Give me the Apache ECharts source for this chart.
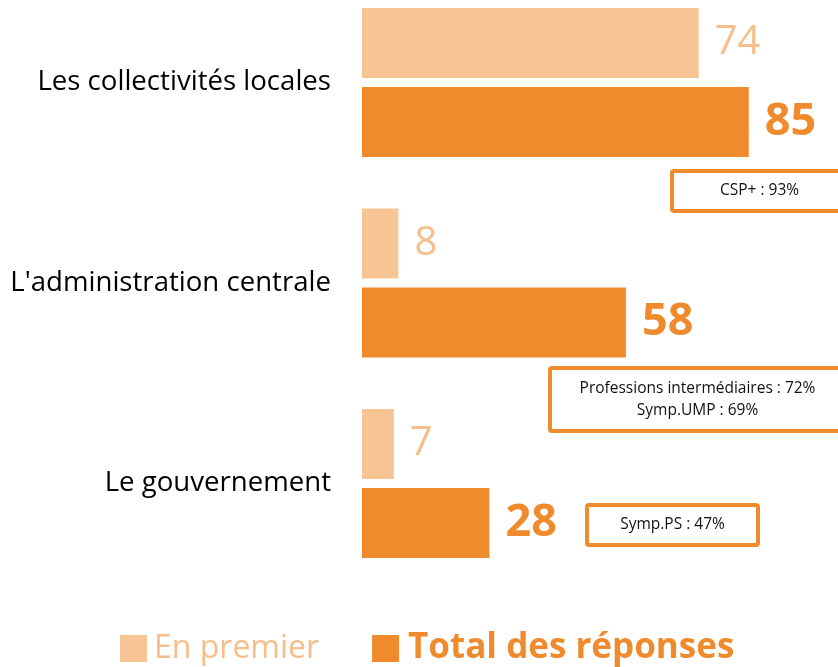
<!DOCTYPE html>
<html>
<head>
<meta charset="utf-8">
<script src="https://cdn.jsdelivr.net/npm/echarts@6/dist/echarts.min.js"></script>
<style>
  html, body { margin: 0; padding: 0; background: #fff; }
  #chart { width: 838px; height: 667px; }
</style>
</head>
<body>
<div id="chart"></div>
<script>
const categories = ['Les collectivités locales', "L'administration centrale", 'Le gouvernement']
const firstValues = [74, 8, 7]
const totalValues = [85, 58, 28]
const seriesNames = ['En premier', 'Total des réponses']
const notes = ['CSP+ : 93%', 'Professions intermédiaires : 72%\nSymp.UMP : 69%', 'Symp.PS : 47%']

const LIGHT = '#F7C594'
const LIGHT_TEXT = '#F5BE8A'
const DARK = '#EF8B2C'
const FONT = '"Open Sans", sans-serif'

const chart = echarts.init(document.getElementById('chart'))

function noteBox(x, y, w, h, text) {
  return {
    type: 'group',
    left: x,
    top: y,
    children: [
      {
        type: 'rect',
        shape: { x: 0, y: 0, width: w, height: h, r: 2 },
        style: { fill: '#fff', stroke: DARK, lineWidth: 4 },
      },
      {
        type: 'text',
        x: w / 2,
        y: h / 2,
        style: {
          text: text,
          fill: '#111',
          font: '15.5px ' + FONT,
          align: 'center',
          verticalAlign: 'middle',
          lineHeight: 22,
        },
      },
    ],
  }
}

chart.setOption({
  animation: false,
  grid: {
    left: 362,
    right: 21,
    top: 82.5,
    height: 401,
  },
  xAxis: {
    type: 'value',
    min: 0,
    max: 100,
    show: false,
  },
  yAxis: {
    type: 'category',
    inverse: true,
    boundaryGap: false,
    data: categories,
    axisLine: { show: false },
    axisTick: { show: false },
    splitLine: { show: false },
    axisLabel: {
      margin: 31,
      fontSize: 27.6,
      color: '#000',
      fontFamily: FONT,
    },
  },
  legend: {
    left: 115,
    top: 626,
    itemWidth: 27,
    itemHeight: 27,
    itemGap: 53,
    icon: 'rect',
    textStyle: { fontSize: 32, fontFamily: FONT },
    data: [
      { name: seriesNames[0], textStyle: { color: LIGHT_TEXT, padding: [0, 0, 0, 2] } },
      { name: seriesNames[1], textStyle: { color: DARK, fontWeight: 'bold', fontSize: 35, padding: [0, 0, 0, 4] } },
    ],
  },
  series: [
    {
      name: seriesNames[0],
      type: 'bar',
      data: firstValues,
      barWidth: 70,
      barGap: '13%',
      clip: false,
      itemStyle: { color: LIGHT },
      label: {
        show: true,
        position: 'right',
        distance: 16,
        fontSize: 40,
        color: LIGHT_TEXT,
        fontFamily: FONT,
      },
    },
    {
      name: seriesNames[1],
      type: 'bar',
      data: totalValues,
      barWidth: 70,
      barGap: '13%',
      clip: false,
      itemStyle: { color: DARK },
      label: {
        show: true,
        position: 'right',
        distance: 16,
        fontSize: 45,
        fontWeight: 'bold',
        color: DARK,
        fontFamily: FONT,
      },
    },
  ],
  graphic: [
    noteBox(670, 169, 175, 40, notes[0]),
    noteBox(548, 366, 295, 63, notes[1]),
    noteBox(585, 503, 171, 40, notes[2]),
  ],
})
</script>
</body>
</html>
